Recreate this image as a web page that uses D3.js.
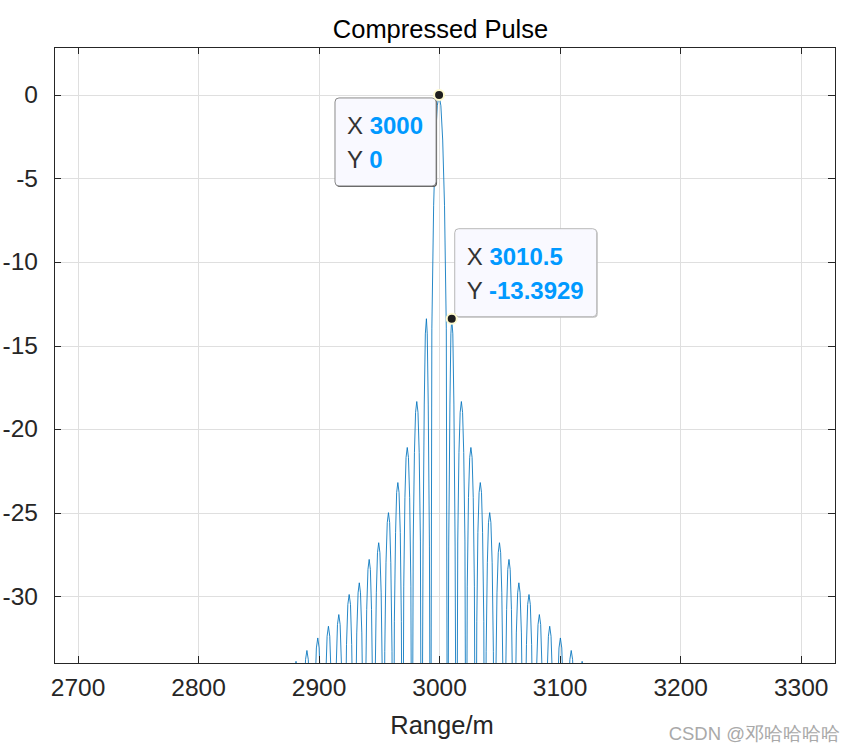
<!DOCTYPE html>
<html>
<head>
<meta charset="utf-8">
<script src="https://cdn.jsdelivr.net/npm/d3@7/dist/d3.min.js"></script>
<style>
  html, body { margin: 0; padding: 0; background: #ffffff; }
  svg { display: block; }
  text { font-family: "Liberation Sans", Arial, Helvetica, sans-serif; }
</style>
</head>
<body>
<svg id="chart" width="857" height="752"></svg>
<script>
// ---------------- data ----------------
const xTicks = [2700, 2800, 2900, 3000, 3100, 3200, 3300];
const yTicks = [0, -5, -10, -15, -20, -25, -30];

// left sidelobes (range in m, power in dB)
const leftRange = [2680, 2876.75, 2877.9, 2879.0, 2880.15, 2881.3, 2882.45, 2883.6, 2884.7,
  2885.85, 2887.0, 2888.1, 2889.2, 2890.35, 2891.5, 2892.6, 2893.7,
  2894.85, 2896.0, 2897.1, 2898.2, 2899.35, 2900.5, 2901.6, 2902.7,
  2903.85, 2904.9, 2906.0, 2907.1, 2908.2, 2909.3, 2910.4, 2911.5,
  2912.55, 2913.6, 2914.7, 2915.7, 2916.8, 2917.9, 2919.0, 2920.0,
  2921.1, 2922.2, 2923.2, 2924.3, 2925.4, 2926.5, 2927.5, 2928.6,
  2929.65, 2930.7, 2931.7, 2932.8, 2933.8, 2934.8, 2935.9, 2936.9,
  2937.95, 2938.95, 2939.95, 2941.0, 2942.0, 2943.0, 2943.95, 2944.95,
  2945.95, 2946.95, 2947.95, 2948.9, 2949.9, 2950.9, 2951.95, 2952.95,
  2953.95, 2954.95, 2955.95, 2957.0, 2958.0, 2959.0, 2959.95, 2960.95,
  2961.95, 2962.9, 2963.9, 2964.8, 2965.8, 2966.8, 2967.8, 2968.7,
  2969.7, 2970.7, 2971.65, 2972.6, 2973.6, 2974.6, 2975.6, 2976.6,
  2977.55, 2978.55, 2979.55, 2980.5, 2981.5, 2982.5, 2983.5, 2984.5,
  2985.5, 2986.7, 2987.7, 2988.6, 2989.5, 2990.2, 2991.0, 2992.0];
const leftDb = [-46, -48, -42.2, -36.9, -34.5, -33.9, -34.5, -36.9, -42.2,
  -48, -41.5, -36.2, -33.8, -33.25, -33.8, -36.2, -41.5,
  -48, -40.8, -35.5, -33.1, -32.5, -33.1, -35.5, -40.8,
  -48, -40.1, -34.8, -32.4, -31.8, -32.4, -34.8, -40.1,
  -48, -39.4, -34.1, -31.7, -31.1, -31.7, -34.1, -39.4,
  -48, -38.2, -32.9, -30.5, -29.9, -30.5, -32.9, -38.2,
  -48, -37.5, -32.2, -29.8, -29.2, -29.8, -32.2, -37.5,
  -48, -36.1, -30.8, -28.4, -27.8, -28.4, -30.8, -36.1,
  -48, -35.1, -29.8, -27.4, -26.8, -27.4, -29.8, -35.1,
  -48, -33.3, -28.0, -25.6, -25.0, -25.6, -28.0, -33.3,
  -48, -31.5, -26.2, -23.8, -23.2, -23.8, -26.2, -31.5,
  -48, -29.4, -24.1, -21.7, -21.1, -21.7, -24.1, -29.4,
  -48, -26.7, -21.4, -19.0, -18.35, -19.0, -21.4, -26.7,
  -48, -27, -18.5, -14.3, -13.3929, -14.3, -18.5, -27];

// main lobe
const mainRange = [2993.0, 2994.0, 2995.5, 2997.0, 2998.5, 3000, 3001.5, 3003.0, 3004.5, 3006.0, 3007.0];
const mainDb = [-48, -14.0, -6.6, -2.7, -0.65, 0, -0.65, -2.7, -6.6, -14.0, -48];

// right sidelobes
const rightRange = [3008.0, 3009.0, 3009.8, 3010.5, 3011.4, 3012.3, 3013.3,
  3014.5, 3015.5, 3016.5, 3017.5, 3018.5, 3019.5, 3020.45, 3021.45,
  3022.45, 3023.4, 3024.4, 3025.4, 3026.4, 3027.4, 3028.35, 3029.3,
  3030.3, 3031.3, 3032.2, 3033.2, 3034.2, 3035.2, 3036.1, 3037.1,
  3038.05, 3039.05, 3040.05, 3041.0, 3042.0, 3043.0, 3044.05, 3045.05,
  3046.05, 3047.05, 3048.05, 3049.1, 3050.1, 3051.1, 3052.05, 3053.05,
  3054.05, 3055.05, 3056.05, 3057.0, 3058.0, 3059.0, 3060.05, 3061.05,
  3062.05, 3063.1, 3064.1, 3065.2, 3066.2, 3067.2, 3068.3, 3069.3,
  3070.35, 3071.4, 3072.5, 3073.5, 3074.6, 3075.7, 3076.8, 3077.8,
  3078.9, 3080.0, 3081.0, 3082.1, 3083.2, 3084.3, 3085.3, 3086.4,
  3087.45, 3088.5, 3089.6, 3090.7, 3091.8, 3092.9, 3094.0, 3095.1,
  3096.15, 3097.3, 3098.4, 3099.5, 3100.65, 3101.8, 3102.9, 3104.0,
  3105.15, 3106.3, 3107.4, 3108.5, 3109.65, 3110.8, 3111.9, 3113.0,
  3114.15, 3115.3, 3116.4, 3117.55, 3118.7, 3119.85, 3121.0, 3122.1,
  3123.25, 3328];
const rightDb = [-27, -18.5, -14.3, -13.3929, -14.3, -18.5, -27,
  -48, -26.7, -21.4, -19.0, -18.35, -19.0, -21.4, -26.7,
  -48, -29.4, -24.1, -21.7, -21.1, -21.7, -24.1, -29.4,
  -48, -31.5, -26.2, -23.8, -23.2, -23.8, -26.2, -31.5,
  -48, -33.3, -28.0, -25.6, -25.0, -25.6, -28.0, -33.3,
  -48, -35.1, -29.8, -27.4, -26.8, -27.4, -29.8, -35.1,
  -48, -36.1, -30.8, -28.4, -27.8, -28.4, -30.8, -36.1,
  -48, -37.5, -32.2, -29.8, -29.2, -29.8, -32.2, -37.5,
  -48, -38.2, -32.9, -30.5, -29.9, -30.5, -32.9, -38.2,
  -48, -39.4, -34.1, -31.7, -31.1, -31.7, -34.1, -39.4,
  -48, -40.1, -34.8, -32.4, -31.8, -32.4, -34.8, -40.1,
  -48, -40.8, -35.5, -33.1, -32.5, -33.1, -35.5, -40.8,
  -48, -41.5, -36.2, -33.8, -33.25, -33.8, -36.2, -41.5,
  -48, -42.2, -36.9, -34.5, -33.9, -34.5, -36.9, -42.2,
  -48, -46];

// data tips
const tipX = [3000, 3010.5];
const tipY = [0, -13.3929];
const tipLabelX = ["3000", "3010.5"];
const tipLabelY = ["0", "-13.3929"];

// ---------------- chart ----------------
const svg = d3.select("#chart");
const L = 54, R = 835, T = 47, B = 663;
const x = d3.scaleLinear().domain([2680.5, 3328.5]).range([L, R]);
const y = d3.scaleLinear().domain([-34, 2.87]).range([B, T]);
const axisColor = "#262626";

svg.append("rect").attr("width", 857).attr("height", 752).attr("fill", "#ffffff");

// grid
const grid = svg.append("g").attr("shape-rendering", "crispEdges");
grid.selectAll("line.vx").data(xTicks).join("line")
  .attr("x1", d => Math.round(x(d)) + 0.5).attr("x2", d => Math.round(x(d)) + 0.5)
  .attr("y1", T).attr("y2", B).attr("stroke", "#dfdfdf").attr("stroke-width", 1);
grid.selectAll("line.hy").data(yTicks).join("line")
  .attr("y1", d => Math.round(y(d)) + 0.5).attr("y2", d => Math.round(y(d)) + 0.5)
  .attr("x1", L).attr("x2", R).attr("stroke", "#dfdfdf").attr("stroke-width", 1);

// clip
svg.append("defs").append("clipPath").attr("id", "clip")
  .append("rect").attr("x", L).attr("y", T).attr("width", R - L).attr("height", B - T);

// line
const rangeAll = leftRange.concat(mainRange, rightRange);
const dbAll = leftDb.concat(mainDb, rightDb);
const pts = rangeAll.map((r, i) => [r, dbAll[i]]);
const line = d3.line().x(d => x(d[0])).y(d => y(d[1]));
svg.append("path").datum(pts)
  .attr("clip-path", "url(#clip)")
  .attr("d", line)
  .attr("fill", "none")
  .attr("stroke", "#0072BD")
  .attr("stroke-width", 0.85)
  .attr("stroke-linejoin", "round");

// axes using d3 axis generators (inner ticks on all sides)
const tickLen = 7;
const fmt = d => String(d);
function styleAxis(g) {
  g.select(".domain").remove();
  g.selectAll(".tick line").attr("stroke", axisColor).attr("shape-rendering", "crispEdges");
  g.selectAll(".tick text").attr("fill", axisColor).attr("font-size", 24.5)
    .attr("font-family", '"Liberation Sans", Arial, Helvetica, sans-serif');
}
const gb = svg.append("g").attr("transform", `translate(0,${B})`)
  .call(d3.axisBottom(x).tickValues(xTicks).tickFormat(fmt).tickSizeInner(-tickLen).tickSizeOuter(0).tickPadding(16));
styleAxis(gb);
gb.selectAll(".tick text").attr("dy", "0.71em");
const gt = svg.append("g").attr("transform", `translate(0,${T})`)
  .call(d3.axisTop(x).tickValues(xTicks).tickFormat("").tickSizeInner(-tickLen).tickSizeOuter(0));
styleAxis(gt);
const gl = svg.append("g").attr("transform", `translate(${L},0)`)
  .call(d3.axisLeft(y).tickValues(yTicks).tickFormat(fmt).tickSizeInner(-tickLen).tickSizeOuter(0).tickPadding(16));
styleAxis(gl);
const gr = svg.append("g").attr("transform", `translate(${R},0)`)
  .call(d3.axisRight(y).tickValues(yTicks).tickFormat("").tickSizeInner(-tickLen).tickSizeOuter(0));
styleAxis(gr);

// frame
svg.append("rect").attr("x", L + 0.5).attr("y", T + 0.5).attr("width", R - L).attr("height", B - T)
  .attr("fill", "none").attr("stroke", axisColor).attr("stroke-width", 1).attr("shape-rendering", "crispEdges");

// title & label
svg.append("text").attr("x", 440.5).attr("y", 38).attr("text-anchor", "middle")
  .attr("font-size", 25.5).attr("fill", "#000").text("Compressed Pulse");
svg.append("text").attr("x", 442).attr("y", 734).attr("text-anchor", "middle")
  .attr("font-size", 25.5).attr("fill", axisColor).text("Range/m");

// data tips
const tipFont = 24;
function dataTip(i, placeLeft) {
  const mx = x(tipX[i]), my = y(tipY[i]);
  const g = svg.append("g");
  const t1 = g.append("text").attr("font-size", tipFont);
  t1.append("tspan").attr("fill", "#333333").text("X ");
  t1.append("tspan").attr("fill", "#0099ff").attr("font-weight", "bold").text(tipLabelX[i]);
  const t2 = g.append("text").attr("font-size", tipFont);
  t2.append("tspan").attr("fill", "#333333").text("Y ");
  t2.append("tspan").attr("fill", "#0099ff").attr("font-weight", "bold").text(tipLabelY[i]);
  const w = Math.max(t1.node().getComputedTextLength(), t2.node().getComputedTextLength()) + 25;
  const h = 88;
  let bx, by;
  if (placeLeft) { bx = mx - 3 - w; by = my + 3; }
  else { bx = mx + 3; by = my - 2 - h; }
  g.insert("rect", "text").attr("x", bx + 1).attr("y", by + 1).attr("width", w).attr("height", h)
    .attr("rx", 4).attr("fill", placeLeft ? "#555" : "#c4c4c4");
  g.insert("rect", "text").attr("x", bx).attr("y", by).attr("width", w).attr("height", h)
    .attr("rx", 4).attr("fill", "#f9f9ff").attr("stroke", placeLeft ? "#8a8a8a" : "#b8b8b8").attr("stroke-width", 1);
  t1.attr("x", bx + 12).attr("y", by + 36);
  t2.attr("x", bx + 12).attr("y", by + 70);
  svg.append("circle").attr("cx", mx).attr("cy", my).attr("r", 5)
    .attr("fill", "#1e1e1e").attr("stroke", "#fffbd0").attr("stroke-width", 2);
}
dataTip(0, true);
dataTip(1, false);

// watermark
svg.append("text").attr("x", 840).attr("y", 740).attr("text-anchor", "end")
  .attr("font-size", 18.5).attr("fill", "#a9a9a9")
  .attr("font-family", '"Noto Sans CJK SC", "Liberation Sans", sans-serif')
  .text("CSDN @邓哈哈哈哈");
</script>
</body>
</html>
